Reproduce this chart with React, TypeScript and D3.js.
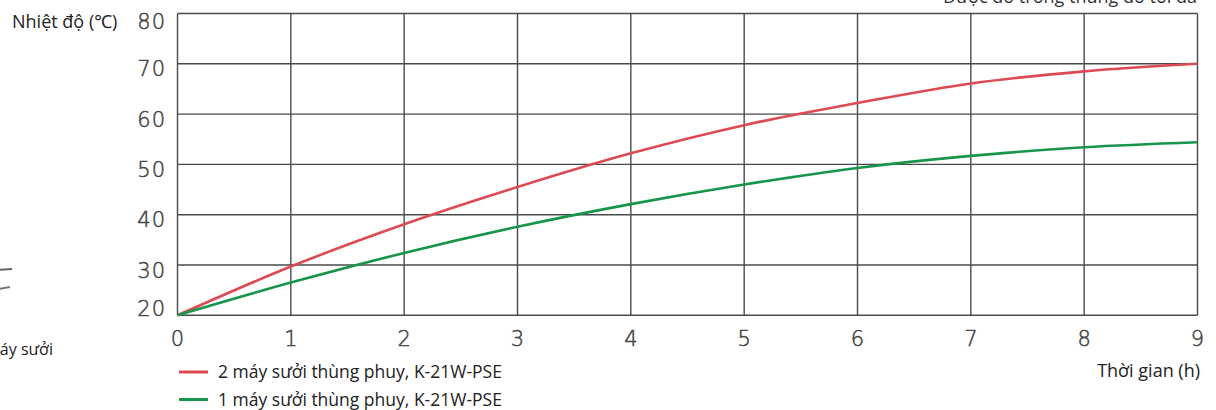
import React from "react";
import * as d3 from "d3";

const hours = [0, 1, 2, 3, 4, 5, 6, 7, 8, 9];
const twoHeaters = [20, 29.7, 38.1, 45.5, 52.2, 57.8, 62.2, 66.1, 68.5, 70];
const oneHeater = [20, 26.5, 32.4, 37.6, 42.1, 46.0, 49.3, 51.7, 53.4, 54.4];
const yTicks = [20, 30, 40, 50, 60, 70, 80];
const xTicks = [0, 1, 2, 3, 4, 5, 6, 7, 8, 9];
const seriesNames = ["2 máy sưởi thùng phuy, K-21W-PSE", "1 máy sưởi thùng phuy, K-21W-PSE"];
const seriesColors = ["#de4a52", "#17954a"];
const yTitle = "Nhiệt độ (℃)";
const xTitle = "Thời gian (h)";
const topNote = "Được đo trong thùng đo tối đa";
const sideText = "máy sưởi";

export default function App() {
  const W = 1216, H = 410;
  const x = d3.scaleLinear().domain([0, 9]).range([177.5, 1197.5]);
  const y = d3.scaleLinear().domain([20, 80]).range([315.3, 13.5]);
  const line = d3
    .line<number>()
    .x((_, i) => x(hours[i]))
    .y((d) => y(d))
    .curve(d3.curveMonotoneX);
  const series = [twoHeaters, oneHeater];
  const tickFont = "'DejaVu Sans', sans-serif";
  const textFont = "'Open Sans', 'Noto Sans', sans-serif";
  const grid = "#4a4a4a";

  return (
    <svg width={W} height={H} style={{ position: "absolute", left: 0, top: 0, background: "#fff" }}>
      {/* top partially cropped note */}
      <text x={1197} y={3} textAnchor="end" fontFamily={textFont} fontSize={18} fill="#333">
        {topNote}
      </text>
      {/* cropped side remnants */}
      <line x1={-2} y1={270} x2={12} y2={269} stroke="#666" strokeWidth={2} />
      <line x1={-2} y1={289} x2={10} y2={287} stroke="#777" strokeWidth={2} />
      <text x={-15} y={355} fontFamily={textFont} fontSize={16} fill="#222">
        {sideText}
      </text>

      {/* grid */}
      {yTicks.map((t) => (
        <line key={"gy" + t} x1={x(0)} x2={x(9)} y1={y(t)} y2={y(t)} stroke={grid} strokeWidth={1.4} />
      ))}
      {xTicks.map((t) => (
        <line key={"gx" + t} x1={x(t)} x2={x(t)} y1={y(80)} y2={y(20)} stroke={grid} strokeWidth={1.4} />
      ))}

      {/* y ticks */}
      {yTicks.map((t) => (
        <text
          key={"ty" + t}
          x={166}
          y={Math.max(21, Math.min(308, y(t) + 5))}
          dy="0.36em"
          textAnchor="end"
          fontFamily={tickFont}
          fontWeight={200}
          fontSize={21}
          letterSpacing={1}
          fill="#444"
          stroke="#444"
          strokeWidth={0.5}
        >
          {t}
        </text>
      ))}
      <text x={12} y={28} fontFamily={textFont} fontSize={18} fill="#222">
        {yTitle}
      </text>

      {/* x ticks */}
      {xTicks.map((t) => (
        <text
          key={"tx" + t}
          x={x(t)}
          y={338}
          dy="0.36em"
          textAnchor="middle"
          fontFamily={tickFont}
          fontWeight={200}
          fontSize={21}
          fill="#444"
          stroke="#444"
          strokeWidth={0.5}
        >
          {t}
        </text>
      ))}
      <text x={1200} y={377} textAnchor="end" fontFamily={textFont} fontSize={18} fill="#222">
        {xTitle}
      </text>

      {/* curves */}
      {series.map((s, i) => (
        <path key={"s" + i} d={line(s) || ""} fill="none" stroke={seriesColors[i]} strokeWidth={2.6} />
      ))}

      {/* legend */}
      {seriesNames.map((n, i) => (
        <g key={"lg" + i} transform={`translate(0, ${372 + i * 27.5})`}>
          <line x1={179} x2={208} y1={0} y2={0} stroke={seriesColors[i]} strokeWidth={3} />
          <text x={218} y={0} dy="0.35em" fontFamily={textFont} fontSize={17.5} fill="#222">
            {n}
          </text>
        </g>
      ))}
    </svg>
  );
}
